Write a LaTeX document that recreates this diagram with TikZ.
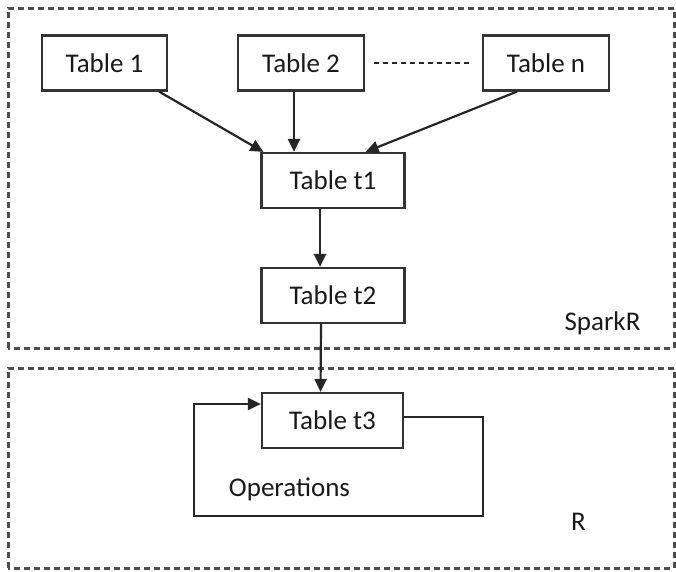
\documentclass[tikz,border=0pt]{standalone}
\usepackage{fontspec}
\setmainfont{Carlito}
\usetikzlibrary{arrows.meta,calc}
\begin{document}
\begin{tikzpicture}[x=1pt,y=-1pt,
  tbox/.style={draw=black!80, line width=2.2pt, minimum width=#1, minimum height=55pt, inner sep=0pt, font=\fontsize{27}{29}\selectfont, text=black!90},
  tbox/.default=124pt,
  conn/.style={draw=black!85, line width=2.2pt, -{Triangle[length=13pt,width=12pt]}},
  region/.style={draw=black!70, line width=3pt, dash pattern=on 6pt off 4pt},
  lbl/.style={font=\fontsize{27}{29}\selectfont, text=black!90, inner sep=0pt}]
\useasboundingbox (0,0) rectangle (676,571);
\draw[region] (8,348) -- (8,8) -- (674,8) -- (674,348) -- cycle;
\draw[region] (8,568) -- (8,368) -- (674,368) -- (674,568) -- cycle;
\node[tbox=125pt] (t1) at (104.5,63) {Table 1\hspace{8pt}};
\node[tbox=126pt] (t2) at (301,63) {Table 2\hspace{9pt}};
\node[tbox=126pt] (tn) at (546,63) {Table n};
\node[tbox=143pt] (a1) at (333,180.5) {Table t1\hspace{18pt}};
\node[tbox=143pt] (a2) at (333,295.5) {Table t2\hspace{18pt}};
\node[tbox=141pt] (a3) at (332.5,420.5) {Table t3\hspace{17pt}};
\draw[black!85, line width=2.2pt, dash pattern=on 5pt off 4pt] ($(t2.east)+(9,0)$) coordinate (d1) -- ($(tn.west)+(-11,0)$) coordinate (d2);
\coordinate (s1) at ([xshift=-9pt]t1.south east);
\coordinate (e1) at ([xshift=3pt]a1.north west);
\draw[conn] (s1) -- (e1);
\coordinate (s2) at ([xshift=-7pt]t2.south);
\draw[conn] (s2) -- (s2 |- a1.north);
\coordinate (sn) at ([xshift=-29pt]tn.south);
\coordinate (en) at ([xshift=-40pt]a1.north east);
\draw[conn] (sn) -- (en);
\draw[conn] ([xshift=-13pt]a1.south) -- ([xshift=-13pt]a2.north);
\draw[conn] ([xshift=-12pt]a2.south) -- ([xshift=-12pt]a3.north);
\coordinate (lr) at (483,516);
\coordinate (ll) at (194,516);
\draw[conn] ([yshift=3.5pt]a3.east) -| (lr) -- (ll) |- ([yshift=16.5pt]a3.west);
\node[lbl] (ops) at (289.5,489) {Operations};
\node[lbl] (spark) at (602.5,323) {SparkR};
\node[lbl] (r) at (578.5,522) {R};
\end{tikzpicture}
\end{document}
